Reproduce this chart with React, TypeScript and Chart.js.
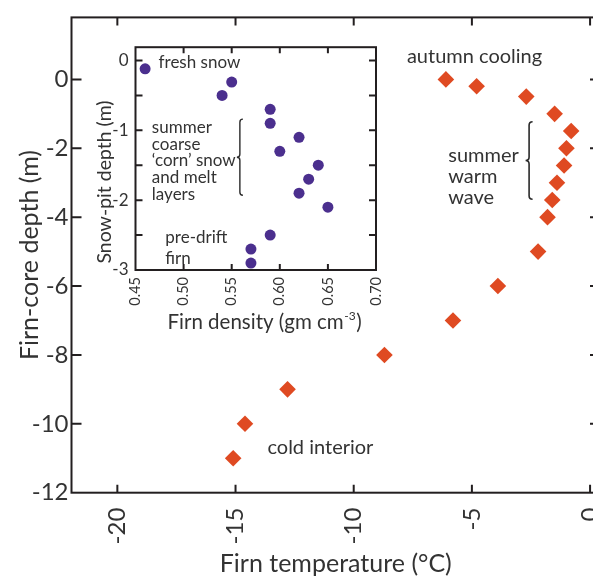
import React, { useEffect, useRef } from 'react';
import { Chart, registerables } from 'chart.js';

Chart.register(...registerables);

// ---- Main chart data: firn-core temperature profile ----
const firnTemperature = [-6.1, -4.8, -2.7, -1.5, -0.8, -1.0, -1.1, -1.4, -1.6, -1.8, -2.2, -3.9, -5.8, -8.7, -12.8, -14.6, -15.1];
const firnCoreDepth = [0, -0.2, -0.5, -1.0, -1.5, -2.0, -2.5, -3.0, -3.5, -4.0, -5.0, -6.0, -7.0, -8.0, -9.0, -10.0, -11.0];
const temperatureTicks = [-20, -15, -10, -5, 0];
const coreDepthTicks = [0, -2, -4, -6, -8, -10, -12];

// ---- Inset data: snow-pit density profile ----
const firnDensity = [0.46, 0.55, 0.54, 0.59, 0.59, 0.62, 0.6, 0.64, 0.63, 0.62, 0.65, 0.59, 0.57, 0.57];
const snowPitDepth = [-0.12, -0.31, -0.5, -0.7, -0.9, -1.1, -1.3, -1.5, -1.7, -1.9, -2.1, -2.5, -2.7, -2.9];
const densityTicks = [0.45, 0.5, 0.55, 0.6, 0.65, 0.7];
const pitDepthTicks = [0, -0.5, -1, -1.5, -2, -2.5, -3];

const FONT = 'Lato, "Open Sans", "DejaVu Sans", sans-serif';
const TEXT = '#333333';
const AXIS = '#231f20';
const DIAMOND = '#df4a22';
const DOT = '#4b2f8e';

function drawBrace(ctx: CanvasRenderingContext2D, x: number, yTop: number, yBot: number, w: number) {
  const mid = (yTop + yBot) / 2;
  ctx.beginPath();
  ctx.moveTo(x + w, yTop);
  ctx.quadraticCurveTo(x, yTop, x, yTop + w);
  ctx.lineTo(x, mid - w);
  ctx.quadraticCurveTo(x, mid, x - w, mid);
  ctx.quadraticCurveTo(x, mid, x, mid + w);
  ctx.lineTo(x, yBot - w);
  ctx.quadraticCurveTo(x, yBot, x + w, yBot);
  ctx.stroke();
}

function drawFrame(chart: any, xTicks: number[], yTicks: number[], lenX: number, lenY: number, lw: number) {
  const { ctx, chartArea: a, scales } = chart;
  ctx.save();
  ctx.strokeStyle = AXIS;
  ctx.lineWidth = lw;
  ctx.strokeRect(a.left, a.top, a.right - a.left, a.bottom - a.top);
  ctx.beginPath();
  xTicks.forEach((v) => {
    const px = scales.x.getPixelForValue(v);
    if (px <= a.left + 1 || px >= a.right - 1) return;
    ctx.moveTo(px, a.bottom);
    ctx.lineTo(px, a.bottom - lenX);
    ctx.moveTo(px, a.top);
    ctx.lineTo(px, a.top + lenX);
  });
  yTicks.forEach((v) => {
    const py = scales.y.getPixelForValue(v);
    if (py <= a.top + 1 || py >= a.bottom - 1) return;
    ctx.moveTo(a.left, py);
    ctx.lineTo(a.left + lenY, py);
    ctx.moveTo(a.right, py);
    ctx.lineTo(a.right - lenY, py);
  });
  ctx.stroke();
  ctx.restore();
}

// annotation anchors in data units
const mainNotes = [
  { lines: ['autumn cooling'], x: -7.75, y: 0.65, gap: 21 },
  { lines: ['summer', 'warm', 'wave'], x: -6.0, y: -2.2, gap: 21 },
  { lines: ['cold interior'], x: -13.65, y: -10.7, gap: 21 },
];
const mainBrace = { x: -2.58, yTop: -1.23, yBot: -3.48 };

const insetNotes = [
  { lines: ['fresh snow'], x: 0.474, y: -0.03, gap: 16.7 },
  { lines: ['summer', 'coarse', '\u2018corn\u2019 snow', 'and melt', 'layers'], x: 0.467, y: -0.96, gap: 16.7 },
  { lines: ['pre-drift', 'firn'], x: 0.481, y: -2.53, gap: 21 },
];
const insetBrace = { x: 0.5585, yTop: -0.84, yBot: -1.93 };

const mainPlugin = {
  id: 'mainDecor',
  afterDraw(chart: any) {
    drawFrame(chart, temperatureTicks, coreDepthTicks, 8, 10, 2);
    const { ctx, scales } = chart;
    ctx.save();
    ctx.fillStyle = TEXT;
    ctx.font = `20px ${FONT}`;
    ctx.textAlign = 'left';
    ctx.textBaseline = 'middle';
    mainNotes.forEach((n) => {
      const x = scales.x.getPixelForValue(n.x);
      const y = scales.y.getPixelForValue(n.y);
      n.lines.forEach((t, i) => ctx.fillText(t, x, y + i * n.gap));
    });
    ctx.strokeStyle = '#2a2a2a';
    ctx.lineWidth = 1.6;
    drawBrace(
      ctx,
      scales.x.getPixelForValue(mainBrace.x),
      scales.y.getPixelForValue(mainBrace.yTop),
      scales.y.getPixelForValue(mainBrace.yBot),
      3.5
    );
    ctx.restore();
  },
};

const insetPlugin = {
  id: 'insetDecor',
  afterDraw(chart: any) {
    drawFrame(chart, densityTicks, pitDepthTicks, 6, 7, 2);
    const { ctx, scales, chartArea: a } = chart;
    ctx.save();
    ctx.fillStyle = TEXT;
    ctx.font = `17px ${FONT}`;
    ctx.textAlign = 'left';
    ctx.textBaseline = 'middle';
    insetNotes.forEach((n) => {
      const x = scales.x.getPixelForValue(n.x);
      const y = scales.y.getPixelForValue(n.y);
      n.lines.forEach((t, i) => ctx.fillText(t, x, y + i * n.gap));
    });
    ctx.strokeStyle = '#2a2a2a';
    ctx.lineWidth = 1.4;
    drawBrace(
      ctx,
      scales.x.getPixelForValue(insetBrace.x),
      scales.y.getPixelForValue(insetBrace.yTop),
      scales.y.getPixelForValue(insetBrace.yBot),
      3
    );
    // axis titles
    ctx.font = `19.5px ${FONT}`;
    ctx.save();
    ctx.translate(a.left - 30.5, a.bottom - 88);
    ctx.rotate(-Math.PI / 2);
    ctx.textAlign = 'center';
    ctx.fillText('Snow-pit depth (m)', 0, 0);
    ctx.restore();
    const tx = a.left + 32;
    const ty = a.bottom + 52;
    const part1 = 'Firn density (gm cm';
    ctx.font = `20.5px ${FONT}`;
    ctx.fillText(part1, tx, ty);
    let w = ctx.measureText(part1).width;
    ctx.font = `12px ${FONT}`;
    ctx.fillText('-3', tx + w + 0.5, ty - 5.5);
    w += ctx.measureText('-3').width + 1;
    ctx.font = `20.5px ${FONT}`;
    ctx.fillText(')', tx + w, ty);
    ctx.restore();
  },
};

export default function App() {
  const mainRef = useRef<HTMLCanvasElement | null>(null);
  const insetRef = useRef<HTMLCanvasElement | null>(null);

  useEffect(() => {
    if (!mainRef.current || !insetRef.current) return;
    const tickFont = (size: number) => ({ family: FONT, size });

    const main = new Chart(mainRef.current, {
      type: 'scatter',
      data: {
        datasets: [
          {
            data: firnTemperature.map((t, i) => ({ x: t, y: firnCoreDepth[i] })),
            pointStyle: 'rectRot',
            pointRadius: 8.3,
            backgroundColor: DIAMOND,
            borderWidth: 0,
          },
        ],
      },
      options: {
        animation: false,
        responsive: false,
        events: [],
        layout: { padding: { top: 14, right: 40, bottom: 0, left: 0 } },
        plugins: { legend: { display: false }, tooltip: { enabled: false } },
        scales: {
          x: {
            type: 'linear',
            min: -21.94,
            max: 0.42,
            afterBuildTicks: (s: any) => {
              s.ticks = temperatureTicks.map((v) => ({ value: v }));
            },
            afterFit: (s: any) => {
              s.height = 85.3;
            },
            grid: { display: false, drawTicks: false },
            border: { display: false },
            ticks: {
              minRotation: 90,
              maxRotation: 90,
              autoSkip: false,
              padding: 15,
              color: TEXT,
              font: tickFont(24),
              callback: (v: any) => String(v),
            },
            title: {
              display: true,
              text: 'Firn temperature (\u00B0C)',
              color: TEXT,
              font: { family: FONT, size: 25, lineHeight: 1.1 },
              padding: { top: 0, bottom: 0 },
            },
          },
          y: {
            type: 'linear',
            min: -12,
            max: 1.8,
            afterBuildTicks: (s: any) => {
              s.ticks = coreDepthTicks.map((v) => ({ value: v }));
            },
            afterFit: (s: any) => {
              s.width = 71.5;
            },
            grid: { display: false, drawTicks: false },
            border: { display: false },
            ticks: {
              autoSkip: false,
              padding: 3,
              color: TEXT,
              font: tickFont(24),
              callback: (v: any) => String(v),
            },
            title: {
              display: true,
              text: 'Firn-core depth (m)',
              color: TEXT,
              font: { family: FONT, size: 25, lineHeight: 1.1 },
              padding: { top: 16, bottom: 0 },
            },
          },
        },
      },
      plugins: [mainPlugin],
    } as any);

    const inset = new Chart(insetRef.current, {
      type: 'scatter',
      data: {
        datasets: [
          {
            data: firnDensity.map((d, i) => ({ x: d, y: snowPitDepth[i] })),
            pointStyle: 'circle',
            pointRadius: 5.5,
            backgroundColor: DOT,
            borderWidth: 0,
          },
        ],
      },
      options: {
        animation: false,
        responsive: false,
        events: [],
        layout: { padding: { top: 7, right: 42, bottom: 0, left: 0 } },
        plugins: { legend: { display: false }, tooltip: { enabled: false } },
        scales: {
          x: {
            type: 'linear',
            min: 0.45,
            max: 0.7,
            afterBuildTicks: (s: any) => {
              s.ticks = densityTicks.map((v) => ({ value: v }));
            },
            afterFit: (s: any) => {
              s.height = 70;
            },
            grid: { display: false, drawTicks: false },
            border: { display: false },
            ticks: {
              minRotation: 90,
              maxRotation: 90,
              autoSkip: false,
              padding: 7,
              color: TEXT,
              font: tickFont(14.5),
              callback: (v: any) => Number(v).toFixed(2),
            },
          },
          y: {
            type: 'linear',
            min: -3,
            max: 0.19,
            afterBuildTicks: (s: any) => {
              s.ticks = pitDepthTicks.map((v) => ({ value: v }));
            },
            afterFit: (s: any) => {
              s.width = 47.5;
            },
            grid: { display: false, drawTicks: false },
            border: { display: false },
            ticks: {
              autoSkip: false,
              padding: 7,
              color: TEXT,
              font: tickFont(17),
              callback: (v: any) => (Number.isInteger(Number(v)) ? String(v) : ''),
            },
          },
        },
      },
      plugins: [insetPlugin],
    } as any);

    return () => {
      main.destroy();
      inset.destroy();
    };
  }, []);

  return (
    <div
      style={{
        position: 'fixed',
        left: 0,
        top: 0,
        width: 593,
        height: 578,
        overflow: 'hidden',
        background: '#ffffff',
      }}
    >
      <canvas
        ref={mainRef}
        width={640}
        height={578}
        style={{ position: 'absolute', left: 0, top: 0, width: 640, height: 578 }}
      />
      <canvas
        ref={insetRef}
        width={330}
        height={310}
        style={{ position: 'absolute', left: 88, top: 30, width: 330, height: 310 }}
      />
    </div>
  );
}
